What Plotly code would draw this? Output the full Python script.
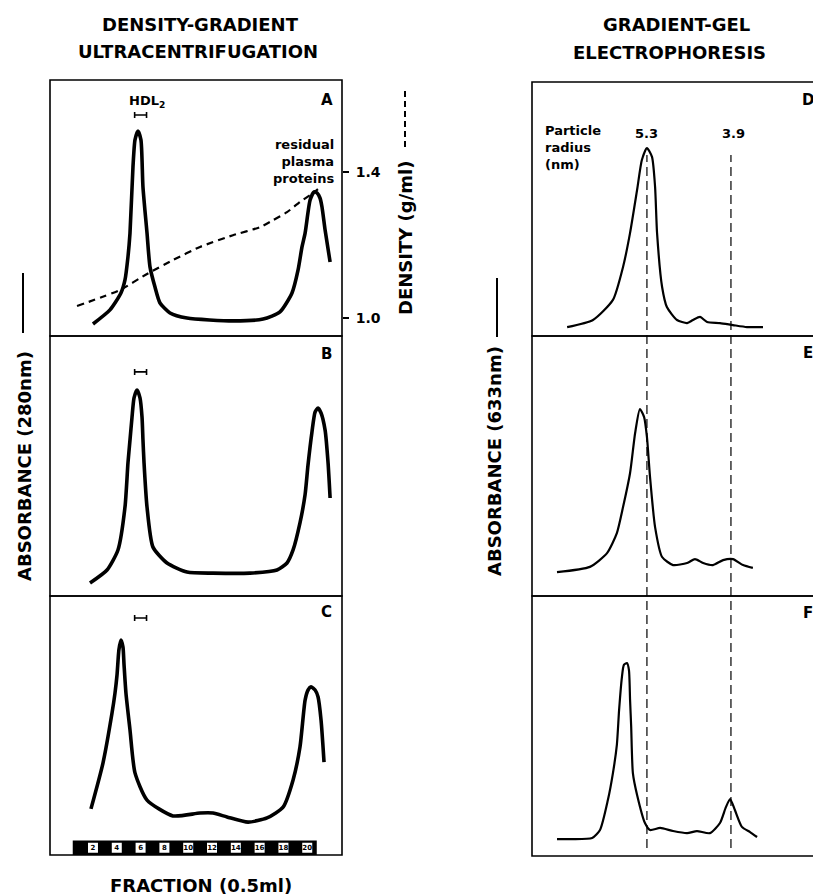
import plotly.graph_objects as go

W, H = 813, 896

# ---------------- data ----------------
# Density-gradient ultracentrifugation (x = fraction number, y = relative absorbance 280 nm)
A_frac = [2.00, 3.43, 4.35, 4.69, 4.94, 5.11, 5.36, 5.53, 5.78, 6.03, 6.20, 6.54, 6.79, 7.21, 7.63, 8.47, 9.90,
          13.76, 16.29, 17.71, 18.72, 19.23, 19.56, 19.82, 20.24, 20.57, 20.82, 21.07, 21.24, 21.50, 21.92]
A_abs = [0.047, 0.102, 0.168, 0.219, 0.309, 0.402, 0.660, 0.766, 0.801, 0.766, 0.582, 0.402, 0.270, 0.191, 0.129,
         0.090, 0.070, 0.059, 0.066, 0.094, 0.168, 0.258, 0.348, 0.402, 0.531, 0.563, 0.559, 0.539, 0.504, 0.414, 0.289]

dens_frac = [0.66, 4.27, 6.54, 8.72, 10.99, 13.76, 16.03, 17.13, 18.30, 19.39, 20.48, 20.90]
dens_val = [1.033, 1.077, 1.121, 1.159, 1.195, 1.227, 1.249, 1.268, 1.290, 1.318, 1.342, 1.353]

B_frac = [1.75, 3.18, 4.10, 4.69, 4.94, 5.11, 5.28, 5.45, 5.70, 5.95, 6.12, 6.20, 6.29, 6.54, 7.04, 8.22, 9.90,
          12.08, 15.19, 17.46, 18.30, 18.81, 19.39, 19.82, 20.06, 20.40, 20.66, 20.91, 21.16, 21.50, 21.75, 21.92]
B_abs = [0.050, 0.100, 0.177, 0.342, 0.512, 0.600, 0.688, 0.762, 0.792, 0.762, 0.688, 0.600, 0.512, 0.342, 0.188,
         0.127, 0.092, 0.088, 0.088, 0.100, 0.127, 0.177, 0.281, 0.390, 0.502, 0.632, 0.708, 0.723, 0.704, 0.638,
         0.512, 0.377]

C_frac = [1.83, 2.84, 3.60, 3.85, 4.02, 4.18, 4.35, 4.52, 4.61, 4.77, 5.11, 5.53, 6.54, 8.72, 10.99, 12.08, 13.26,
          15.03, 16.62, 17.97, 18.81, 19.39, 19.82, 20.07, 20.32, 20.66, 20.91, 21.16, 21.41]
C_abs = [0.178, 0.355, 0.548, 0.625, 0.695, 0.792, 0.830, 0.803, 0.734, 0.625, 0.483, 0.317, 0.212, 0.151, 0.162,
         0.162, 0.147, 0.127, 0.143, 0.185, 0.290, 0.417, 0.598, 0.637, 0.649, 0.637, 0.610, 0.521, 0.359]

# Gradient-gel electrophoresis (x = migration distance, arbitrary units; y = relative absorbance 633 nm)
D_dist = [12.5, 21.7, 28.8, 32.4, 34.9, 37.4, 39.1, 40.9, 42.7, 43.8, 44.5, 46.3, 48.0, 51.6, 55.2, 57.3, 59.8,
          62.3, 66.9, 71.5, 76.5, 82.2]
D_abs = [0.035, 0.063, 0.142, 0.272, 0.406, 0.575, 0.693, 0.740, 0.705, 0.587, 0.406, 0.193, 0.114, 0.063, 0.051,
         0.063, 0.075, 0.055, 0.051, 0.043, 0.035, 0.035]

E_dist = [8.9, 20.6, 26.7, 30.2, 32.4, 34.9, 36.7, 38.4, 39.9, 40.9, 42.0, 43.8, 46.3, 50.2, 55.2, 58.0, 60.9,
          64.4, 68.0, 71.5, 75.1, 78.6]
E_abs = [0.092, 0.112, 0.165, 0.242, 0.342, 0.473, 0.627, 0.719, 0.688, 0.612, 0.458, 0.265, 0.150, 0.119, 0.127,
         0.142, 0.127, 0.119, 0.138, 0.142, 0.119, 0.108]

F_dist = [8.9, 13.5, 21.4, 24.2, 27.0, 28.8, 30.2, 31.0, 32.0, 32.7, 33.8, 34.5, 34.9, 35.3, 35.9, 37.4, 40.2,
          42.0, 45.6, 50.2, 55.2, 58.7, 63.3, 66.9, 69.0, 70.5, 72.2, 74.7, 77.6, 80.1]
F_abs = [0.065, 0.065, 0.069, 0.100, 0.215, 0.319, 0.427, 0.562, 0.688, 0.735, 0.742, 0.715, 0.600, 0.496, 0.319,
         0.235, 0.127, 0.100, 0.108, 0.096, 0.088, 0.096, 0.088, 0.127, 0.188, 0.219, 0.177, 0.112, 0.092, 0.073]

fraction_labels = [2, 4, 6, 8, 10, 12, 14, 16, 18, 20]
hdl2_center = [6.0, 6.0, 6.0]
hdl2_halfwidth = [0.5, 0.5, 0.5]
hdl2_level = [0.863, 0.862, 0.915]
radius_labels = ["5.3", "3.9"]
radius_pos = [40.9, 70.8]
density_ticks = [1.0, 1.4]

# ---------------- layout helpers ----------------
def px(x):
    return x / W


def py(y):
    return 1 - y / H


FONT = "DejaVu Sans"
BIG = 18
left_x = [px(50), px(342)]
right_x = [px(532), 1.0]
rows_left = [(80, 336), (336, 596), (596, 855)]
rows_right = [(82, 336), (336, 596), (596, 856)]

fig = go.Figure()

thick = dict(color="black", width=3.6, shape="spline", smoothing=0.6)
thin = dict(color="black", width=2.2, shape="spline", smoothing=0.6)

fig.add_trace(go.Scatter(x=A_frac, y=A_abs, mode="lines", line=thick, xaxis="x", yaxis="y"))
fig.add_trace(go.Scatter(x=dens_frac, y=dens_val, mode="lines",
                         line=dict(color="black", width=2.2, dash="7px,5px", shape="spline", smoothing=0.5),
                         xaxis="x", yaxis="y7"))
fig.add_trace(go.Scatter(x=B_frac, y=B_abs, mode="lines", line=thick, xaxis="x2", yaxis="y2"))
fig.add_trace(go.Scatter(x=C_frac, y=C_abs, mode="lines", line=thick, xaxis="x3", yaxis="y3"))
fig.add_trace(go.Scatter(x=D_dist, y=D_abs, mode="lines", line=thin, xaxis="x4", yaxis="y4"))
fig.add_trace(go.Scatter(x=E_dist, y=E_abs, mode="lines", line=thin, xaxis="x5", yaxis="y5"))
fig.add_trace(go.Scatter(x=F_dist, y=F_abs, mode="lines", line=thin, xaxis="x6", yaxis="y6"))

# HDL2 brackets (error bars)
for i, (xa, ya) in enumerate([("x", "y"), ("x2", "y2"), ("x3", "y3")]):
    fig.add_trace(go.Scatter(x=[hdl2_center[i]], y=[hdl2_level[i]], mode="markers",
                             marker=dict(size=2, color="rgba(0,0,0,0)"),
                             error_x=dict(type="data", array=[hdl2_halfwidth[i]], color="black",
                                          thickness=1.6, width=3),
                             xaxis=xa, yaxis=ya))

# Fraction bar (black strip with numbered white boxes) at the bottom of panel C
bar_x0 = min(fraction_labels) - 1.7
bar_x1 = max(fraction_labels) + 0.8
fig.add_shape(type="rect", xref="x3", yref="y3", x0=bar_x0, x1=bar_x1, y0=0, y1=0.056,
              fillcolor="black", line=dict(width=0), layer="below")
fig.add_trace(go.Scatter(x=fraction_labels, y=[0.028] * len(fraction_labels), mode="markers+text",
                         marker=dict(symbol="square", size=10, color="white", line=dict(width=0)),
                         text=[str(v) for v in fraction_labels], textposition="middle center",
                         textfont=dict(family=FONT, size=7, color="black", weight="bold"),
                         xaxis="x3", yaxis="y3"))

hidden = dict(showgrid=False, zeroline=False, showticklabels=False, ticks="", showline=False, fixedrange=True)
left_range = [-1.61, 22.92]
right_range = [0, 100]
layout = dict(
    width=W, height=H, autosize=False, showlegend=False,
    margin=dict(l=0, r=0, t=0, b=0), paper_bgcolor="white", plot_bgcolor="rgba(0,0,0,0)",
    font=dict(family=FONT, color="black"),
)
for i in range(3):
    n = "" if i == 0 else str(i + 1)
    t, b = rows_left[i]
    layout["xaxis" + n] = dict(hidden, domain=left_x, range=left_range, anchor="y" + n)
    layout["yaxis" + n] = dict(hidden, domain=[py(b), py(t)], range=[0, 1], anchor="x" + n)
for i in range(3):
    n = str(i + 4)
    t, b = rows_right[i]
    layout["xaxis" + n] = dict(hidden, domain=right_x, range=right_range, anchor="y" + n)
    layout["yaxis" + n] = dict(hidden, domain=[py(b), py(t)], range=[0, 1], anchor="x" + n)

layout["yaxis7"] = dict(overlaying="y", side="right", anchor="x", range=[0.951, 1.652],
                        tickvals=density_ticks, ticktext=["%.1f" % v for v in density_ticks],
                        ticks="outside", ticklen=6, tickwidth=1.5, tickcolor="black",
                        showgrid=False, zeroline=False, showline=False, fixedrange=True,
                        ticklabelstandoff=4,
                        tickfont=dict(family=FONT, size=14, color="black", weight="bold"))
fig.update_layout(**layout)

# Panel borders
for t, b in rows_left:
    fig.add_shape(type="rect", xref="paper", yref="paper", x0=left_x[0], x1=left_x[1], y0=py(b), y1=py(t),
                  line=dict(color="black", width=1.6), layer="above")
for t, b in rows_right:
    fig.add_shape(type="rect", xref="paper", yref="paper", x0=right_x[0], x1=1.03, y0=py(b), y1=py(t),
                  line=dict(color="black", width=1.6), layer="above")

# Particle-radius dashed lines across D-F
for pos in radius_pos:
    fig.add_shape(type="line", xref="x4", yref="paper", x0=pos, x1=pos, y0=py(848), y1=py(155),
                  line=dict(color="black", width=1.2, dash="9px,5px"))

# Axis-title indicator lines
fig.add_shape(type="line", xref="paper", yref="paper", x0=px(23), x1=px(23), y0=py(333), y1=py(273),
              line=dict(color="black", width=2))
fig.add_shape(type="line", xref="paper", yref="paper", x0=px(497), x1=px(497), y0=py(337), y1=py(278),
              line=dict(color="black", width=2))
fig.add_shape(type="line", xref="paper", yref="paper", x0=px(405), x1=px(405), y0=py(147), y1=py(90),
              line=dict(color="black", width=2, dash="6px,4px"))


def ann(text, x, y, size, xanchor="center", yanchor="middle", angle=0, align="center"):
    fig.add_annotation(text=text, x=px(x), y=py(y), xref="paper", yref="paper", showarrow=False,
                       xanchor=xanchor, yanchor=yanchor, textangle=angle, align=align,
                       font=dict(family=FONT, size=size, color="black", weight="bold"))


# Titles
ann("DENSITY-GRADIENT", 200, 24, BIG)
ann("ULTRACENTRIFUGATION", 198, 51, BIG)
ann("GRADIENT-GEL", 676, 24, BIG)
ann("ELECTROPHORESIS", 669, 52, BIG)

# Axis titles
ann("ABSORBANCE (280nm)", 24, 466, BIG, angle=-90)
ann("ABSORBANCE (633nm)", 494, 461, BIG, angle=-90)
ann("DENSITY (g/ml)", 405, 238, BIG, angle=-90)
ann("FRACTION (0.5ml)", 201, 885, BIG)

# Panel letters
for letter, (x, y) in zip("ABCDEF", [(327, 100), (326, 354), (326, 612), (808, 100), (808, 353), (808, 613)]):
    ann(letter, x, y, 15)

ann("HDL<sub>2</sub>", 147, 101, 13)
ann("residual<br>plasma<br>proteins", 336, 161, 13, xanchor="right", align="right")
ann("Particle<br>radius<br>(nm)", 543, 147, 13, xanchor="left", align="left")
for lab, xp in zip(radius_labels, [646, 733]):
    ann(lab, xp, 133, 13)

fig.write_html("out.html")
